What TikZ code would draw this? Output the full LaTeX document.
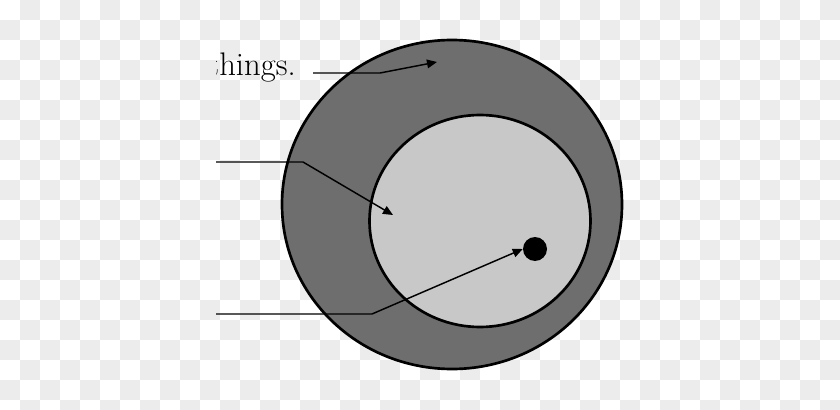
\documentclass[tikz,border=0pt]{standalone}
\usetikzlibrary{arrows.meta}
\definecolor{checker}{HTML}{ECECEC}
\definecolor{outergray}{HTML}{6E6E6E}
\definecolor{innergray}{HTML}{C8C8C8}
\begin{document}
\begin{tikzpicture}[x=0.75pt,y=-0.75pt,
  ring/.style={draw=black,line width=2pt},
  pointer/.style={line width=1.1pt,-{Triangle[length=7.5pt,width=6.5pt]}},
  dot/.style={circle,fill=black,inner sep=0pt,minimum size=18pt}]
\clip (0,0) rectangle (840,410);
\fill[white] (0,0) rectangle (840,410);
\foreach \i in {0,...,41}
  \foreach \j in {0,...,20}
    {\ifodd\numexpr\i+\j\relax \fill[checker] (20*\i,20*\j) rectangle ++(20,20);\fi}
\draw[ring,fill=outergray] (452,204.5) ellipse [x radius=170,y radius=164.5];
\draw[ring,fill=innergray] (480,221) ellipse [x radius=110.5,y radius=106];
\node[dot] (core) at (535,249) {};
\coordinate (outerpt) at (437,62);
\coordinate (innerpt) at (393,215);
\begin{scope}
  \clip (216,0) rectangle (840,410);
  \node[anchor=base west,inner sep=0pt,font=\fontsize{24.5}{29}\selectfont] (things) at (219,76) {\llap{t}hings.};
\end{scope}
\draw[pointer] (313,73) -- (380,73) -- (outerpt);
\draw[pointer] (216,162) -- (303,162) -- (innerpt);
\draw[pointer] (216,314) -- (372,314) -- (core.west);
\end{tikzpicture}
\end{document}
